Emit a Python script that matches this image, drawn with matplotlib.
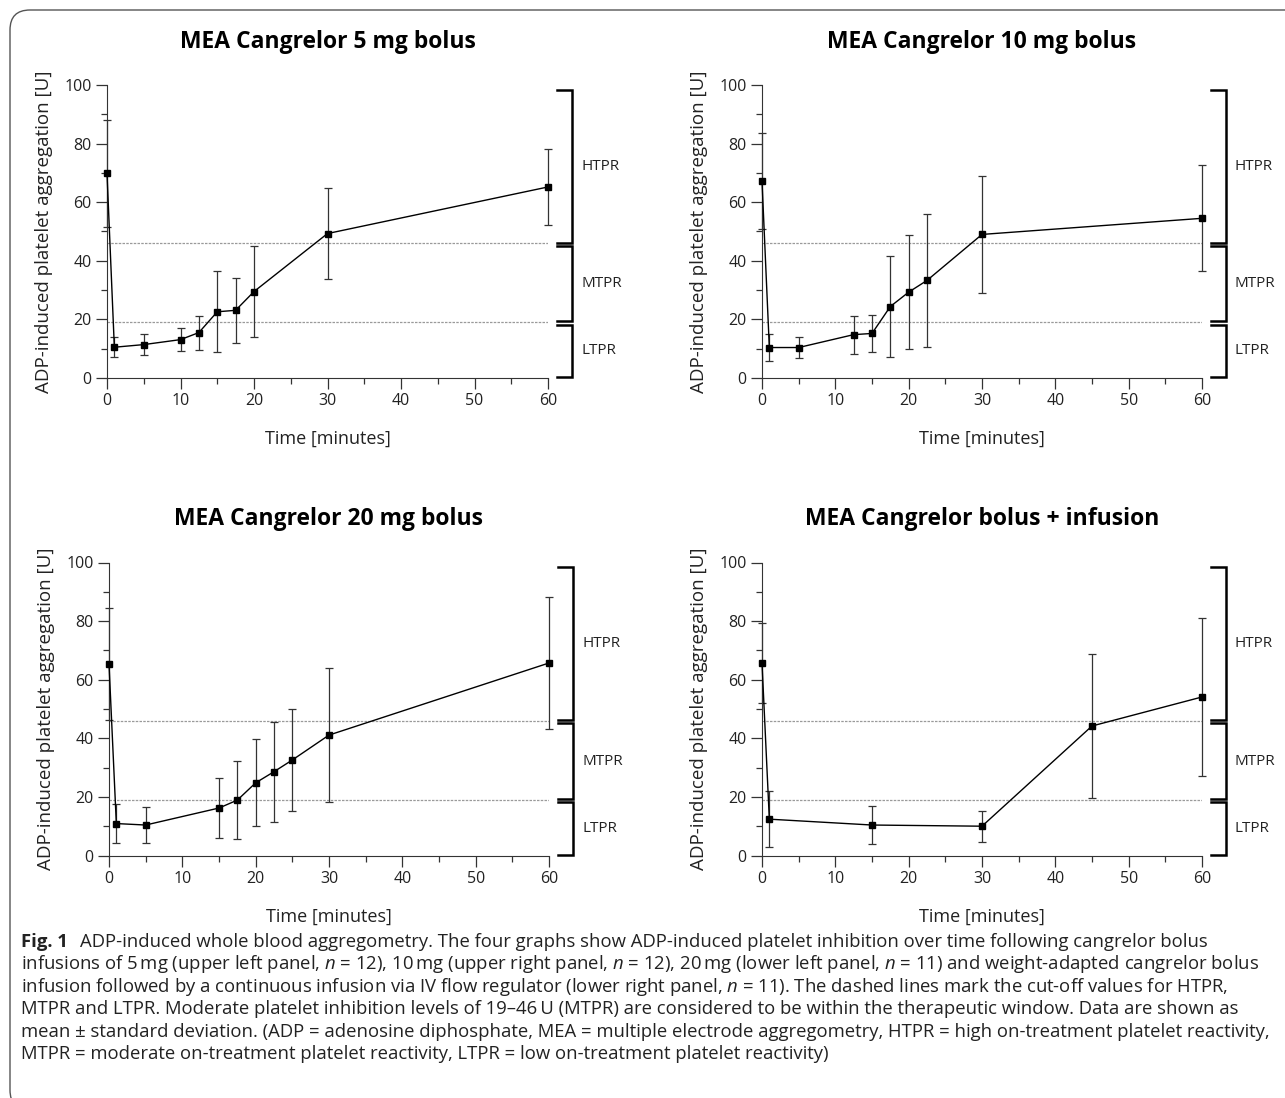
import matplotlib
matplotlib.use("Agg")
import matplotlib.pyplot as plt
from matplotlib.patches import FancyBboxPatch

# tiempos [min], medias y desviaciones estandar
t_5mg = [0, 1, 5, 10, 12.5, 15, 17.5, 20, 30, 60]
mean_5mg = [69.8, 10.5, 11.4, 13.1, 15.5, 22.6, 23.1, 29.5, 49.3, 65.2]
sd_5mg = [18.1, 3.4, 3.6, 3.9, 5.8, 13.8, 11.1, 15.5, 15.5, 13.1]

t_10mg = [0, 1, 5, 12.5, 15, 17.5, 20, 22.5, 30, 60]
mean_10mg = [67.2, 10.4, 10.4, 14.8, 15.2, 24.4, 29.3, 33.3, 49.0, 54.5]
sd_10mg = [16.4, 4.7, 3.7, 6.5, 6.2, 17.1, 19.4, 22.6, 20.0, 18.1]

t_20mg = [0, 1, 5, 15, 17.5, 20, 22.5, 25, 30, 60]
mean_20mg = [65.4, 10.9, 10.4, 16.2, 18.9, 24.8, 28.6, 32.6, 41.1, 65.7]
sd_20mg = [19.1, 6.6, 6.0, 10.1, 13.3, 14.8, 17.1, 17.5, 23.0, 22.4]

t_inf = [0, 1, 15, 30, 45, 60]
mean_inf = [65.7, 12.4, 10.4, 10.0, 44.2, 54.1]
sd_inf = [13.8, 9.5, 6.6, 5.3, 24.7, 27.1]

titles = ["MEA Cangrelor 5 mg bolus", "MEA Cangrelor 10 mg bolus",
          "MEA Cangrelor 20 mg bolus", "MEA Cangrelor bolus + infusion"]

# limites de los rangos de reactividad
cutoffs = [19, 46]
zones = ["HTPR", "MTPR", "LTPR"]
zone_ranges = [(46.2, 98.3), (19.3, 45.1), (0.3, 18.2)]

caption_lines = [
    "ADP-induced whole blood aggregometry. The four graphs show ADP-induced platelet inhibition over time following cangrelor bolus",
    "infusions of 5\u2009mg (upper left panel, $n$ = 12), 10\u2009mg (upper right panel, $n$ = 12), 20\u2009mg (lower left panel, $n$ = 11) and weight-adapted cangrelor bolus",
    "infusion followed by a continuous infusion via IV flow regulator (lower right panel, $n$ = 11). The dashed lines mark the cut-off values for HTPR,",
    "MTPR and LTPR. Moderate platelet inhibition levels of 19\u201346\u2009U (MTPR) are considered to be within the therapeutic window. Data are shown as",
    "mean \u00b1 standard deviation. (ADP = adenosine diphosphate, MEA = multiple electrode aggregometry, HTPR = high on-treatment platelet reactivity,",
    "MTPR = moderate on-treatment platelet reactivity, LTPR = low on-treatment platelet reactivity)",
]

plt.rcParams['font.family'] = ['Open Sans', 'DejaVu Sans']
plt.rcParams['mathtext.fontset'] = 'custom'
plt.rcParams['mathtext.it'] = 'Open Sans:italic'
plt.rcParams['mathtext.rm'] = 'Open Sans'

W, H = 1285, 1098
fig = plt.figure(figsize=(W / 100, H / 100), dpi=100)

# marco redondeado (solo visible arriba y a la izquierda)
marco = FancyBboxPatch((0.10, -0.12), 20, 11.0, boxstyle="round,pad=0,rounding_size=0.2",
                       transform=fig.dpi_scale_trans, fill=False, edgecolor='#555555', lw=1.0)
fig.patches.append(marco)

posiciones = [
    [107 / W, 1 - 378 / H, 441 / W, 293 / H],
    [762 / W, 1 - 378 / H, 440 / W, 293 / H],
    [109 / W, 1 - 855.5 / H, 440 / W, 293 / H],
    [762 / W, 1 - 855.5 / H, 440 / W, 293 / H],
]
datos = [(t_5mg, mean_5mg, sd_5mg), (t_10mg, mean_10mg, sd_10mg),
         (t_20mg, mean_20mg, sd_20mg), (t_inf, mean_inf, sd_inf)]

for pos, (t, m, sd), titulo in zip(posiciones, datos, titles):
    ax = fig.add_axes(pos)
    ax.hlines(cutoffs, 0, 60, colors='#9a9a9a', linestyles=(0, (2, 1)), lw=0.9)
    eb = ax.errorbar(t, m, yerr=sd, color='black', ecolor='#333333', elinewidth=0.9,
                     capsize=2.8, capthick=0.9, lw=1.0, marker='s', ms=5, mfc='black',
                     mec='black', clip_on=False, zorder=3)
    for art in eb.lines[1] + eb.lines[2]:
        art.set_clip_on(False)
    ax.set_xlim(0, 60)
    ax.set_ylim(0, 100)
    ax.spines['top'].set_visible(False)
    ax.spines['right'].set_visible(False)
    ax.spines['left'].set_color('#333333')
    ax.spines['bottom'].set_color('#333333')
    ax.set_xticks(range(0, 61, 10))
    ax.set_xticks(range(5, 60, 10), minor=True)
    ax.set_yticks(range(0, 101, 20))
    ax.set_yticks(range(10, 100, 20), minor=True)
    ax.tick_params(which='major', length=8, width=0.9, color='#333333', labelsize=11.5,
                   labelcolor='#222222', pad=3)
    ax.tick_params(which='minor', length=4, width=0.9, color='#333333')
    ax.set_xlabel("Time [minutes]", fontsize=13, color='#222222', labelpad=15)
    ax.set_ylabel("ADP-induced platelet aggregation [U]", fontsize=13.5, color='#222222', labelpad=8)
    ax.text(0.5, 1.148, titulo, transform=ax.transAxes, ha='center', va='center',
            fontsize=16.5, fontweight='bold', color='black')

    # corchetes de zonas a la derecha
    for nombre, (y0, y1) in zip(zones, zone_ranges):
        ax.plot([61.2, 63.3, 63.3, 61.2], [y1, y1, y0, y0], color='black', lw=1.8,
                clip_on=False, solid_joinstyle='miter')
        ax.text(64.5, (y0 + y1) / 2, nombre, ha='left', va='center', fontsize=11,
                color='#222222', clip_on=False)

# leyenda de la figura
y_px = 942
fig.text(21 / W, 1 - y_px / H, "Fig. 1", fontsize=13.3, fontweight='bold',
         ha='left', va='center', color='#222222')
for i, linea in enumerate(caption_lines):
    x0 = 80 if i == 0 else 21
    fig.text(x0 / W, 1 - (y_px + i * 22.4) / H, linea, fontsize=13.3,
             ha='left', va='center', color='#222222')

fig.savefig("out.png", dpi=100)
